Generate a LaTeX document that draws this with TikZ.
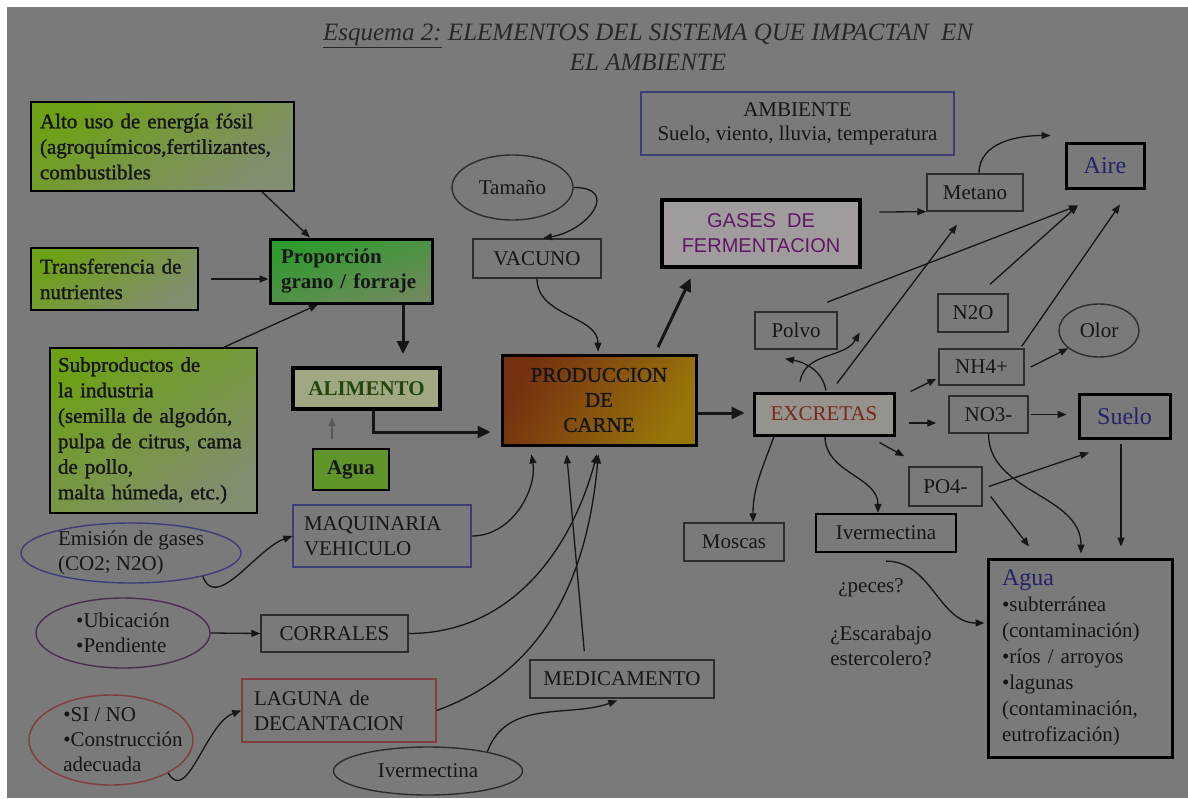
\documentclass[tikz,border=0pt]{standalone}
\usepackage{fontspec}
\setmainfont{Liberation Serif}
\newfontfamily\heavyserif[FakeBold=1.3]{Liberation Serif}
\newfontfamily\gasfont{Liberation Sans}
\usepackage{tikz}
\usetikzlibrary{arrows.meta, shapes.geometric}

\definecolor{bggray}{RGB}{122,122,122}
\definecolor{inkcol}{RGB}{22,22,22}
\definecolor{edgecol}{RGB}{45,45,45}
\definecolor{blueedge}{RGB}{62,62,118}
\definecolor{redge}{RGB}{128,62,62}
\definecolor{purpedge}{RGB}{72,48,78}
\definecolor{greenA}{RGB}{110,160,22}
\definecolor{greenB}{RGB}{130,142,112}
\definecolor{propA}{RGB}{45,155,45}
\definecolor{propB}{RGB}{110,138,92}
\definecolor{waterfill}{RGB}{95,148,42}
\definecolor{prodA}{RGB}{118,48,16}
\definecolor{prodB}{RGB}{152,118,10}
\definecolor{gasfill}{RGB}{160,156,158}
\definecolor{gastxt}{RGB}{95,25,100}
\definecolor{excrfill}{RGB}{150,146,142}
\definecolor{excrtxt}{RGB}{118,42,26}
\definecolor{alimfill}{RGB}{160,168,130}
\definecolor{alimtxt}{RGB}{35,70,15}
\definecolor{bluetxt}{RGB}{35,35,108}
\definecolor{titlecol}{RGB}{40,40,40}

\newcommand{\boxtxt}{\fontsize{21}{25}\selectfont}
\newcommand{\greentxt}{\heavyserif\fontsize{21}{25.5}\selectfont}
\newcommand{\boldtxt}{\bfseries\fontsize{21}{25}\selectfont}
\newcommand{\bigtxt}{\fontsize{24}{26}\selectfont}
\newcommand{\ttltxt}{\itshape\fontsize{25}{30}\selectfont}

\begin{document}
\begin{tikzpicture}[x=1pt, y=-1pt,
  box/.style={draw=edgecol, line width=1.4pt, inner sep=0pt, text=inkcol, font=\boxtxt},
  heavybox/.style={box, draw=black, line width=3pt},
  greenbox/.style={box, draw=black, line width=1.6pt, font=\greentxt, align=left,
    top color=greenA, bottom color=greenB, shading angle=35},
  oval/.style={ellipse, draw=edgecol, line width=1.4pt, inner sep=0pt},
  ovaltext/.style={font=\boxtxt, text=inkcol, align=left},
  freetext/.style={font=\boxtxt, text=inkcol, align=left},
  arr/.style={draw=inkcol, line width=1.3pt, -{Triangle[length=9pt,width=7pt]}},
  bigarr/.style={draw=inkcol, line width=3pt, -{Triangle[length=13pt,width=12pt]}}
]
% --- Background ---
\fill[white] (0,0) rectangle (1188,798);
\fill[bggray] (7,7) rectangle (1188,798);
\useasboundingbox (0,0) rectangle (1188,798);

% --- Title ---
\node[font=\ttltxt, text=titlecol, align=center] (title) at (648,47)
  {\underline{Esquema 2:} ELEMENTOS DEL SISTEMA QUE IMPACTAN\ \ EN\\EL AMBIENTE};

% --- Feed side (green boxes) ---
\node[greenbox, minimum width=263pt, minimum height=89pt, text width=245pt] (alto) at (162.5,146.5)
  {Alto uso de energía fósil\\(agroquímicos,fertilizantes,\\combustibles};
\node[greenbox, minimum width=167pt, minimum height=62pt, text width=149pt] (transf) at (114.5,279)
  {Transferencia de\\nutrientes};
\node[greenbox, minimum width=207pt, minimum height=165pt, text width=191pt] (subp) at (153.5,430.5)
  {Subproductos de\\la industria\\(semilla de algodón,\\pulpa de citrus, cama\\de pollo,\\malta húmeda, etc.)};
\node[greenbox, line width=3pt, font=\boldtxt, top color=propA, bottom color=propB, shading angle=20,
  minimum width=162pt, minimum height=64pt, text width=140pt] (prop) at (351,271)
  {Proporción\\grano / forraje};
\node[box, draw=black, line width=4pt, fill=alimfill, text=alimtxt, font=\boldtxt,
  minimum width=147pt, minimum height=41pt] (alim) at (366.5,388.5) {ALIMENTO};
\node[box, draw=black, line width=1.6pt, fill=waterfill, font=\boldtxt,
  minimum width=76pt, minimum height=41pt] (aguaf) at (351,469.5) {Agua};

% --- Left inputs ---
\node[box, draw=blueedge, minimum width=178pt, minimum height=62pt, text width=156pt, align=left] (maq) at (382,536)
  {MAQUINARIA\\VEHICULO};
\node[oval, draw=blueedge, minimum width=220pt, minimum height=60pt,
  label={[ovaltext]center:{Emisión de gases\\(CO2; N2O)}}] (emis) at (131,553) {};
\node[oval, draw=purpedge, minimum width=174pt, minimum height=70pt,
  label={[ovaltext]center:{•Ubicación\\•Pendiente}}] (ubic) at (123,633) {};
\node[box, minimum width=147pt, minimum height=37pt] (corr) at (334.5,633.5) {CORRALES};
\node[oval, draw=redge, minimum width=164pt, minimum height=90pt,
  label={[ovaltext, xshift=12pt]center:{•SI / NO\\•Construcción\\adecuada}}] (sino) at (111,740) {};
\node[box, draw=redge, minimum width=194pt, minimum height=63pt, text width=170pt, align=left] (lag) at (339,710.5)
  {LAGUNA de\\DECANTACION};
\node[oval, minimum width=189pt, minimum height=48pt,
  label={[ovaltext]center:{Ivermectina}}] (iverm) at (428,771) {};
\node[box, minimum width=184pt, minimum height=38pt] (medic) at (622,679) {MEDICAMENTO};

% --- Center ---
\node[heavybox, font=\heavyserif\fontsize{21}{25}\selectfont, align=center,
  top color=prodA, bottom color=prodB, shading angle=60,
  minimum width=194pt, minimum height=90pt] (prod) at (599,400) {PRODUCCION\\DE\\CARNE};
\node[oval, minimum width=121pt, minimum height=65pt,
  label={[ovaltext]center:{Tamaño}}] (tam) at (512.5,187.5) {};
\node[box, minimum width=128pt, minimum height=39pt] (vac) at (537,258.5) {VACUNO};
\node[box, draw=black, line width=4.5pt, fill=gasfill, text=gastxt, align=center,
  font=\gasfont\fontsize{20}{25}\selectfont,
  minimum width=198pt, minimum height=67pt] (gases) at (761,233.5) {GASES\ \ DE\\FERMENTACION};
\node[box, draw=blueedge, align=center, font=\fontsize{21}{24}\selectfont,
  minimum width=313pt, minimum height=63pt] (amb) at (797.5,123.5)
  {AMBIENTE\\Suelo, viento, lluvia, temperatura};

% --- Excretas and products ---
\node[heavybox, fill=excrfill, text=excrtxt, minimum width=140pt, minimum height=42pt] (excr) at (824,414) {EXCRETAS};
\node[box, minimum width=96pt, minimum height=37pt] (metano) at (975,192.5) {Metano};
\node[heavybox, text=bluetxt, font=\bigtxt, minimum width=78pt, minimum height=45pt] (aire) at (1105,165.5) {Aire};
\node[box, minimum width=82pt, minimum height=37pt] (polvo) at (796,330.5) {Polvo};
\node[box, minimum width=70pt, minimum height=38pt] (n2o) at (973,313) {N2O};
\node[oval, minimum width=80pt, minimum height=53pt,
  label={[ovaltext]center:{Olor}}] (olor) at (1099,330.5) {};
\node[box, minimum width=85pt, minimum height=36pt] (nh4) at (981.5,367) {NH4+};
\node[box, minimum width=79pt, minimum height=37pt] (no3) at (988.5,414.5) {NO3-};
\node[heavybox, text=bluetxt, font=\bigtxt, minimum width=91pt, minimum height=44pt] (suelo) at (1124.5,416) {Suelo};
\node[box, minimum width=73pt, minimum height=39pt] (po4) at (945.5,486.5) {PO4-};
\node[box, line width=2.2pt, draw=black, minimum width=140pt, minimum height=38pt] (ivbox) at (886,533) {Ivermectina};
\node[box, minimum width=100pt, minimum height=38pt] (moscas) at (734,542) {Moscas};
\node[heavybox, align=left, minimum width=184pt, minimum height=198pt, text width=156pt,
  font=\fontsize{21}{26}\selectfont] (aguab) at (1080,658)
  {{\color{bluetxt}\fontsize{24}{26}\selectfont Agua}\\•subterránea\\(contaminación)\\•ríos / arroyos\\•lagunas\\(contaminación,\\eutrofización)};
\node[freetext] (peces) at (871,588) {¿peces?};
\node[freetext] (escar) at (881,645.5) {¿Escarabajo\\estercolero?};

% --- Feed arrows ---
\draw[arr] ([xshift=99.5pt]alto.south) -- ([xshift=-41pt]prop.north);
\draw[arr, shorten <=12pt] (transf.east) -- (transf.east -| prop.west);
\draw[arr] ([xshift=70.5pt]subp.north) -- ([xshift=-33pt]prop.south);
\draw[bigarr, shorten >=12pt] ([xshift=52pt]prop.south) -- ([xshift=36.5pt]alim.north);
\draw[bigarr, shorten >=10pt] ([xshift=6.5pt]alim.south) |- ([yshift=-32pt]prod.west);
\draw[arr, draw=black!65, shorten <=9pt, shorten >=6pt] ([xshift=-19pt]aguaf.north) -- ([xshift=-34.5pt]alim.south);

% --- Left inputs to production ---
\draw[arr] (emis.-18) to[out=-70,in=200] (maq.west);
\draw[arr, shorten >=8pt] (maq.east) to[out=0,in=-80] ([xshift=-69pt]prod.south);
\draw[arr, shorten >=8pt] (corr.east) to[out=0,in=-105] (prod.south);
\draw[arr, shorten >=8pt] (lag.east) to[out=20,in=-95] (prod.south);
\draw[arr, shorten <=8pt, shorten >=8pt] ([xshift=-37pt]medic.north) -- ([xshift=-33pt]prod.south);
\draw[arr, shorten >=5pt] (iverm.18) to[out=70,in=200] (medic.south);
\draw[arr] (sino.-30) to[out=-60,in=200] (lag.west);
\draw[arr] (ubic.east) -- (corr.west);
\draw[arr] (tam.east) to[out=0,in=10,looseness=2] ([xshift=6pt]vac.north);
\draw[arr, shorten >=2pt] (vac.south) to[out=-90,in=90] ([xshift=-1pt]prod.north);

% --- Production outputs ---
\draw[bigarr, shorten <=7pt, shorten >=10pt] ([xshift=56pt]prod.north) -- ([xshift=-66pt]gases.south);
\draw[bigarr, shorten >=8pt] ([yshift=-13pt]prod.east) -- ([yshift=1pt]excr.west);
\draw[arr] ([xshift=17pt,yshift=21.5pt]gases.east) -- (metano.south west);
\draw[arr] ([xshift=4pt]metano.north) to[out=90,in=180] ([xshift=-14pt,yshift=6pt]aire.north west);

% --- Air ---
\draw[arr] ([xshift=31pt,yshift=9pt]polvo.north) -- ([xshift=-27pt,yshift=-16pt]aire.south);
\draw[arr] ([xshift=13pt,yshift=8pt]excr.north) -- ([xshift=-18pt,yshift=-13pt]metano.south);
\draw[arr] ([xshift=17pt,yshift=9pt]n2o.north) -- ([xshift=-27pt,yshift=-16pt]aire.south);
\draw[arr] ([xshift=-3pt,yshift=2pt]nh4.north east) -- ([xshift=15pt,yshift=-15pt]aire.south);
\draw[arr] ([xshift=6pt]nh4.east) -- (olor.210);
\draw[arr] ([xshift=2pt,yshift=1pt]excr.north) to[out=100,in=-10] ([xshift=-11pt,yshift=-9pt]polvo.south);
\draw[arr] ([xshift=-24pt,yshift=10pt]excr.north) to[out=80,in=-120] ([xshift=22pt,yshift=-2pt]polvo.east);

% --- Soil and water ---
\draw[arr] ([xshift=15pt]excr.north east) -- ([xshift=-2pt,yshift=7pt]nh4.south west);
\draw[arr] ([xshift=13pt,yshift=-9pt]excr.east) -- ([xshift=-12pt,yshift=-8.5pt]no3.west);
\draw[arr] ([xshift=-16pt,yshift=-6pt]excr.south east) -- ([xshift=-4pt,yshift=10pt]po4.north west);
\draw[arr] ([xshift=2pt]no3.east) -- ([xshift=-11pt,yshift=1.5pt]suelo.west);
\draw[arr] ([xshift=6pt]po4.east) -- ([xshift=-35.5pt,yshift=-13pt]suelo.south);
\draw[arr] ([xshift=8pt,yshift=-10pt]po4.east) -- ([xshift=-51pt,yshift=11pt]aguab.north);
\draw[arr] (no3.south) to[out=-90,in=90] ([xshift=1pt,yshift=4pt]aguab.north);
\draw[arr, shorten <=4pt, shorten >=11pt] ([xshift=-3.5pt]suelo.south) -- ([xshift=41pt]aguab.north);
\draw[arr] ([xshift=-50pt]excr.south) to[out=-110,in=90] ([xshift=19pt]moscas.north);
\draw[arr] ([xshift=1pt]excr.south) to[out=-90,in=90] ([xshift=-8pt]ivbox.north);
\draw[arr] ([yshift=-8pt]ivbox.south) to[out=0,in=180] ([xshift=-2pt,yshift=35pt]aguab.west);
\end{tikzpicture}
\end{document}
